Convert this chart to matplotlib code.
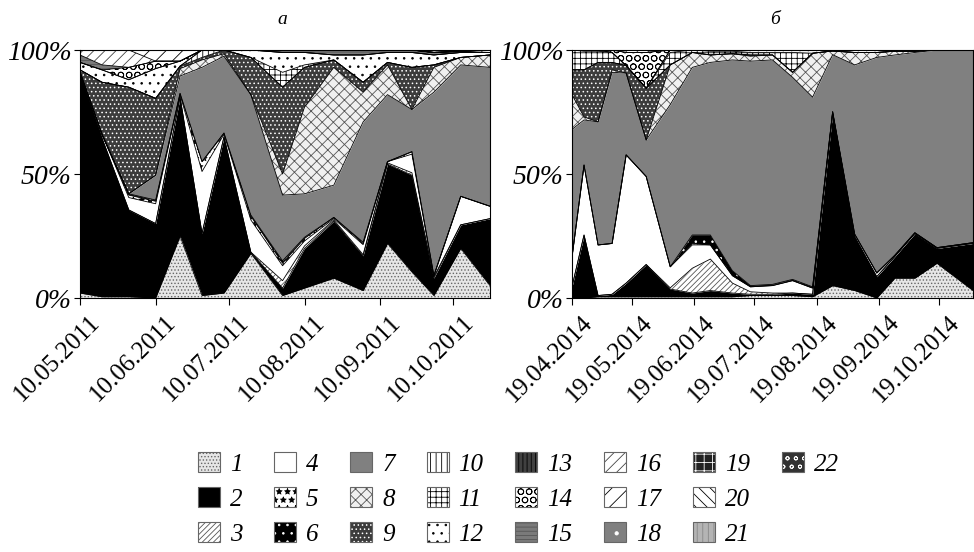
import matplotlib
matplotlib.use('Agg')
import matplotlib.pyplot as plt
import matplotlib.transforms as mtransforms
import numpy as np
import pandas as pd
from matplotlib.patches import Patch
from matplotlib.font_manager import FontProperties

plt.rcParams['font.family'] = ['Liberation Serif', 'DejaVu Serif']
plt.rcParams['hatch.linewidth'] = 0.6

# ---- panel a (2011) ----
dates_a = ['10.05.2011', '19.05.2011', '30.05.2011', '10.06.2011', '20.06.2011',
           '29.06.2011', '08.07.2011', '19.07.2011', '01.08.2011', '10.08.2011',
           '22.08.2011', '03.09.2011', '13.09.2011', '23.09.2011', '02.10.2011',
           '13.10.2011', '25.10.2011']
ticks_a = ['10.05.2011', '10.06.2011', '10.07.2011', '10.08.2011', '10.09.2011', '10.10.2011']

A1 = [2, 0.5, 0.5, 0, 25, 1, 2, 18, 1, 4, 8, 3, 22, 10.5, 1, 20, 5]
A2 = [88, 64, 35, 30, 56, 25, 63, 0.5, 3, 16, 23, 14, 32, 39, 7, 9.5, 27]
A3 = [0, 0, 0, 0, 0, 0, 0, 0, 3, 1, 0.5, 0.5, 0.5, 1, 0.5, 0, 0]
A4 = [1, 1.5, 5, 8, 1, 25, 1, 13, 6, 2, 0.5, 4, 0.5, 7.5, 0.5, 11.5, 5]
A5 = [0, 0, 1, 1, 0.5, 4, 0.5, 1.5, 1, 1, 0.5, 0.5, 0, 1, 0, 0, 0]
A6 = [0, 0, 0.5, 0.5, 0, 0, 0, 0.5, 1, 0.5, 0, 0.5, 0, 0, 0, 0, 0]
A7 = [0, 0, 0, 10, 7, 38, 31, 48.5, 26.5, 17.5, 13, 48.5, 27, 17, 74, 53, 56]
A8 = [0, 0, 0, 0, 3, 3, 1, 0, 8.5, 35, 47.5, 12, 12, 0, 10, 3, 5]
A9 = [1, 21, 43, 31, 1, 1, 1.5, 15, 35, 16, 3, 4, 1, 17, 1, 0, 0]
A10 = [0, 0, 0, 0, 0, 3, 0, 0, 0, 0, 0, 0, 0, 0, 0, 0, 0]
A11 = [0, 0, 0, 0, 0, 0, 0, 0, 6, 1, 0, 0, 0, 0, 0, 0, 0]
A12 = [3, 5, 3, 12, 2, 0, 0, 3, 8, 5, 2, 11, 4, 6, 4, 2, 1]
A13 = [0] * 17
A14 = [0, 0, 5, 3, 0, 0, 0, 0, 0, 0, 0, 0, 0, 0, 0, 0, 0]
A15 = [3, 2, 0, 0, 0, 0, 0, 0, 1, 1, 2, 2, 1, 1, 1, 0.5, 0]
A16 = [2, 6, 7, 0, 0, 0, 0, 0, 0, 0, 0, 0, 0, 0, 0, 0, 1]
A17 = [0, 0, 0, 4.5, 4.5, 0, 0, 0, 0, 0, 0, 0, 0, 0, 0, 0, 0]
A18 = [0] * 17
A19 = [0] * 17
A20 = [0] * 17
A21 = [0, 0, 0, 0, 0, 0, 0, 0, 0, 0, 0, 0, 0, 0, 1, 0.5, 0]
A22 = [0] * 17

# ---- panel b (2014) ----
dates_b = ['19.04.2014', '25.04.2014', '02.05.2014', '09.05.2014', '16.05.2014',
           '26.05.2014', '07.06.2014', '18.06.2014', '27.06.2014', '08.07.2014',
           '17.07.2014', '28.07.2014', '07.08.2014', '17.08.2014', '27.08.2014',
           '07.09.2014', '18.09.2014', '27.09.2014', '07.10.2014', '18.10.2014',
           '05.11.2014']
ticks_b = ['19.04.2014', '19.05.2014', '19.06.2014', '19.07.2014', '19.08.2014',
           '19.09.2014', '19.10.2014']

B1 = [0, 0, 0.5, 0.5, 0.5, 0.5, 0.5, 0.5, 0.5, 0.5, 1, 1, 1, 0.5, 5, 3, 0, 8, 8, 14, 3]
B2 = [4.5, 25.4, 0.5, 1, 5.5, 13, 3.1, 1.5, 2.5, 1.5, 0.5, 0.5, 1, 1, 69.6, 21.7, 8.6, 8.7, 18, 6, 19]
B3 = [0, 0, 0, 0, 0, 0, 0.5, 10, 12.7, 4, 1, 0.5, 0, 0, 0, 0, 0, 0, 0, 0, 0]
B4 = [12, 28.2, 20.4, 20.5, 51.7, 35.5, 8.5, 9.4, 5.7, 3, 2, 3, 5, 2.5, 0.5, 1, 1.5, 0.5, 0.3, 0.3, 0.3]
B5 = [0, 0, 0, 0, 0, 0, 0, 0.5, 0, 0, 0, 0, 0, 0, 0, 0, 0, 0, 0, 0, 0]
B6 = [0, 0, 0, 0, 0, 0, 0, 3.5, 4, 2, 0.5, 0.5, 0.5, 0.5, 0, 0, 0, 0, 0, 0, 0]
B7 = [51.5, 18.2, 49.6, 69, 33, 14.7, 65.4, 67.6, 69.6, 85, 90.5, 90.5, 81.5, 76.5, 23, 68.3, 86.9, 80.8, 72.7, 79.7, 77.7]
B8 = [14, 1.2, 0, 1, 0, 0, 16, 6, 3, 2.5, 2, 2, 2, 17.7, 1.5, 5, 2, 1.5, 0.5, 0, 0]
B9 = [10, 19, 24, 3, 3, 20.9, 0, 0, 0, 0, 0.5, 0, 0, 0, 0, 0, 0, 0, 0, 0, 0]
B10 = [0] * 21
B11 = [8, 7.5, 4.5, 4, 0, 0, 5, 1, 1.5, 1, 1, 1, 8, 0, 0, 0, 0, 0, 0, 0, 0]
B12 = [0, 0.5, 0.5, 0, 0, 0, 1, 0, 0.5, 0.5, 1, 1, 1, 1.3, 0.4, 1, 1, 0.5, 0.5, 0, 0]
B13 = [0] * 21
B14 = [0, 0, 0, 1, 5.3, 14.4, 0, 0, 0, 0, 0, 0, 0, 0, 0, 0, 0, 0, 0, 0, 0]
B15 = [0] * 21
B16 = [0, 0, 0, 0, 1, 1, 0, 0, 0, 0, 0, 0, 0, 0, 0, 0, 0, 0, 0, 0, 0]
B17 = [0] * 21
B18 = [0] * 21
B19 = [0] * 21
B20 = [0] * 21
B21 = [0] * 21
B22 = [0] * 21

layers_a = [A1, A2, A3, A4, A5, A6, A7, A8, A9, A10, A11, A12, A13, A14, A15, A16,
            A17, A18, A19, A20, A21, A22]
layers_b = [B1, B2, B3, B4, B5, B6, B7, B8, B9, B10, B11, B12, B13, B14, B15, B16,
            B17, B18, B19, B20, B21, B22]
group_labels = [str(i) for i in range(1, 23)]

# (facecolor, hatch, hatch colour) for groups 1..22
styles = [
    ('#e6e6e6', '.....', '#666666'),
    ('black', None, 'black'),
    ('white', '//////', '#555555'),
    ('white', None, 'black'),
    ('white', '**', 'black'),
    ('black', '..', 'white'),
    ('#808080', None, '#808080'),
    ('#f0f0f0', 'xxx', '#555555'),
    ('#3c3c3c', '....', 'white'),
    ('white', '|||', 'black'),
    ('white', '+++', 'black'),
    ('white', '..', 'black'),
    ('#404040', '||||', 'black'),
    ('white', 'OO', 'black'),
    ('#7a7a7a', '----', '#555555'),
    ('white', '///', '#444444'),
    ('white', '//', 'black'),
    ('#808080', '.', 'white'),
    ('#222222', '++', 'white'),
    ('white', '\\\\\\', 'black'),
    ('#b4b4b4', '|||', '#888888'),
    ('#333333', 'oo', 'white'),
]


def draw_panel(ax, dates, layers, ticks):
    x = pd.to_datetime(dates, format='%d.%m.%Y')
    data = np.array(layers, dtype=float)
    data = data / data.sum(axis=0) * 100
    base = np.zeros(len(x))
    for vals, (fc, h, hc) in zip(data, styles):
        top = base + vals
        ax.fill_between(x, base, top, facecolor=fc, hatch=h, edgecolor=hc, linewidth=0)
        ax.plot(x, top, color='black', lw=0.6)
        base = top
    ax.set_xlim(x[0], x[-1])
    ax.set_ylim(0, 100)
    ax.tick_params(axis='x', direction='out', length=5, width=0.8, pad=10)
    ax.tick_params(axis='y', direction='out', length=4, width=0.8, pad=2)
    ax.set_yticks([0, 50, 100])
    ax.set_yticklabels(['0%', '50%', '100%'], fontsize=20, style='italic')
    tk = pd.to_datetime(ticks, format='%d.%m.%Y')
    ax.set_xticks(tk)
    ax.set_xticklabels(ticks, fontsize=18, rotation=45, ha='right', va='center',
                       rotation_mode='anchor')
    shift = mtransforms.ScaledTranslation(0.17, 0.0, fig.dpi_scale_trans)
    for lab in ax.get_xticklabels():
        lab.set_transform(lab.get_transform() + shift)
    for s in ax.spines.values():
        s.set_linewidth(0.8)


fig = plt.figure(figsize=(9.74, 5.52), dpi=100)
ax_a = fig.add_axes([80 / 974, 1 - 298 / 552, 410 / 974, 248 / 552])
ax_b = fig.add_axes([572 / 974, 1 - 298 / 552, 401 / 974, 248 / 552])
draw_panel(ax_a, dates_a, layers_a, ticks_a)
draw_panel(ax_b, dates_b, layers_b, ticks_b)

fig.text(282 / 974, 1 - 19 / 552, 'а', fontsize=14, style='italic', ha='center', va='center')
fig.text(775 / 974, 1 - 19 / 552, 'б', fontsize=14, style='italic', ha='center', va='center')

handles = []
for fc, h, hc in styles:
    handles.append((Patch(facecolor=fc, hatch=h, edgecolor=hc, linewidth=0),
                    Patch(facecolor='none', edgecolor='#666666', linewidth=0.8)))
labels = list(group_labels)
blank = Patch(facecolor='none', edgecolor='none')
handles += [blank, blank]
labels += ['', '']

fig.legend(handles, labels, ncol=8, loc='upper center', bbox_to_anchor=(0.532, 0.212),
           frameon=False, prop=FontProperties(family='Liberation Serif', style='italic', size=18),
           handlelength=0.88, handleheight=0.85, handletextpad=0.4, columnspacing=1.27,
           labelspacing=0.45, borderpad=0.2)

fig.savefig('out.png', dpi=100)
